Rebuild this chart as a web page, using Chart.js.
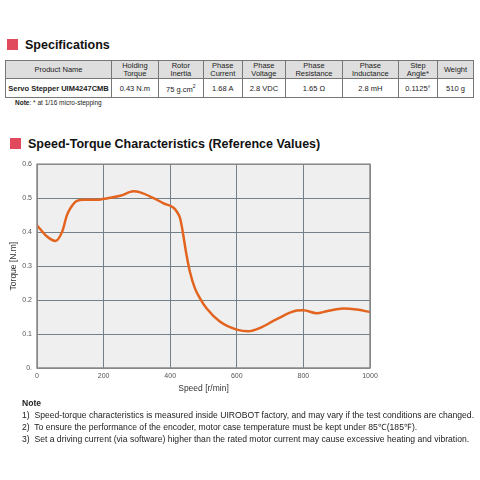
<!DOCTYPE html>
<html>
<head>
<meta charset="utf-8">
<script src="https://cdn.jsdelivr.net/npm/chart.js@4"></script>
<style>
  body { margin: 0; background: #fff; font-family: "Liberation Sans", Arial, sans-serif; color: #111; }
  #page { position: relative; width: 480px; height: 480px; overflow: hidden; }
  .head { position: absolute; font-weight: bold; font-size: 12.5px; }
  .head span { position: absolute; left: -18px; top: 1px; width: 11px; height: 11px; background: #e04a5c; }
  table { position: absolute; left: 5px; top: 60px; width: 469px; border-collapse: collapse; font-size: 7.5px; color: #222; }
  td, th { border: 1px solid #777; text-align: center; padding: 0; font-weight: normal; }
  th { background: #dedede; height: 17px; line-height: 8px; }
  td { height: 18px; }
  .note { position: absolute; font-size: 6.5px; color: #222; }
  #notes { position: absolute; left: 22px; top: 397px; font-size: 8.6px; line-height: 12px; color: #222; }
  #box { position: absolute; left: 0; top: 155px; width: 400px; height: 245px; }
</style>
</head>
<body>
<div id="page">
  <div class="head" style="left:25px; top:38px;"><span></span>Specifications</div>
  <table>
    <tr>
      <th style="width:105px">Product Name</th><th>Holding<br>Torque</th><th>Rotor<br>Inertia</th><th>Phase<br>Current</th>
      <th>Phase<br>Voltage</th><th>Phase<br>Resistance</th><th>Phase<br>Inductance</th><th>Step<br>Angle*</th><th>Weight</th>
    </tr>
    <tr>
      <td style="font-weight:bold">Servo Stepper UIM4247CMB</td><td>0.43 N.m</td><td>75 g.cm<sup style="font-size:5px">2</sup></td><td>1.68 A</td>
      <td>2.8 VDC</td><td>1.65 &Omega;</td><td>2.8 mH</td><td>0.1125&deg;</td><td>510 g</td>
    </tr>
  </table>
  <div class="note" style="left:15px; top:99px;"><b>Note</b>: * at 1/16 micro-stepping</div>
  <div class="head" style="left:28px; top:137px;"><span></span>Speed-Torque Characteristics (Reference Values)</div>
  <div id="box"><canvas id="chart" width="400" height="245"></canvas></div>
  <div id="notes">
    <b>Note</b><br>
    1)&nbsp; Speed-torque characteristics is measured inside UIROBOT factory, and may vary if the test conditions are changed.<br>
    2)&nbsp; To ensure the performance of the encoder, motor case temperature must be kept under 85&#8451;(185&#8457;).<br>
    3)&nbsp; Set a driving current (via software) higher than the rated motor current may cause excessive heating and vibration.
  </div>
</div>
<script>
// speed [r/min] and torque [N.m]
const speed  = [0, 30, 55, 75, 90, 100, 120, 140, 180, 200, 250, 290, 310, 350, 380, 410, 420, 430, 449, 459, 474, 489, 509, 549, 600, 635, 670, 720, 780, 800, 840, 870, 920, 960, 1000];
const torque = [0.42, 0.387, 0.374, 0.40, 0.45, 0.47, 0.492, 0.495, 0.495, 0.498, 0.507, 0.52, 0.517, 0.50, 0.485, 0.472, 0.46, 0.44, 0.333, 0.284, 0.235, 0.206, 0.176, 0.137, 0.113, 0.108, 0.118, 0.144, 0.169, 0.17, 0.161, 0.167, 0.175, 0.172, 0.165];
const yTicks = ['0.', '0.1', '0.2', '0.3', '0.4', '0.5', '0.6'];

const plotFrame = {
  id: 'plotFrame',
  beforeDraw(chart) {
    const a = chart.chartArea, c = chart.ctx;
    c.save();
    c.fillStyle = '#efefef';
    c.fillRect(a.left, a.top, a.right - a.left, a.bottom - a.top);
    c.restore();
  },
  afterDatasetsDraw(chart) {
    const a = chart.chartArea, c = chart.ctx;
    c.save();
    c.strokeStyle = '#8a8a8a';
    c.lineWidth = 1.5;
    c.strokeRect(a.left, a.top, a.right - a.left, a.bottom - a.top);
    c.restore();
  }
};

new Chart(document.getElementById('chart'), {
  type: 'line',
  data: {
    datasets: [{
      data: speed.map((s, i) => ({ x: s, y: torque[i] })),
      borderColor: '#e2641f',
      borderWidth: 2.5,
      pointRadius: 0,
      tension: 0.4,
      cubicInterpolationMode: 'monotone',
      fill: false
    }]
  },
  options: {
    responsive: false,
    animation: false,
    maintainAspectRatio: false,
    layout: { padding: { left: 0, right: 30, top: 9, bottom: 0 } },
    plugins: { legend: { display: false }, tooltip: { enabled: false } },
    scales: {
      x: {
        type: 'linear', min: 0, max: 1000,
        ticks: { stepSize: 200, color: '#555', font: { size: 7, family: 'Liberation Sans' }, padding: 4, maxRotation: 0,
          callback: v => String(v) },
        grid: { color: '#748089', lineWidth: 1, drawTicks: false },
        border: { display: false },
        title: { display: true, text: 'Speed [r/min]', color: '#333', font: { size: 8.5, family: 'Liberation Sans' }, padding: { top: 6, bottom: 6 } },
        afterFit(s) { s.height = 32; }
      },
      y: {
        min: 0, max: 0.6,
        ticks: { stepSize: 0.1, color: '#555', font: { size: 7, family: 'Liberation Sans' }, padding: 5,
          callback: (v, i) => yTicks[i] },
        grid: { color: '#748089', lineWidth: 1, drawTicks: false },
        border: { display: false },
        title: { display: true, text: 'Torque [N.m]', color: '#333', font: { size: 8.5, family: 'Liberation Sans' }, padding: { top: 9, bottom: 9 } },
        afterFit(s) { s.width = 37; }
      }
    }
  },
  plugins: [plotFrame]
});
</script>
</body>
</html>
